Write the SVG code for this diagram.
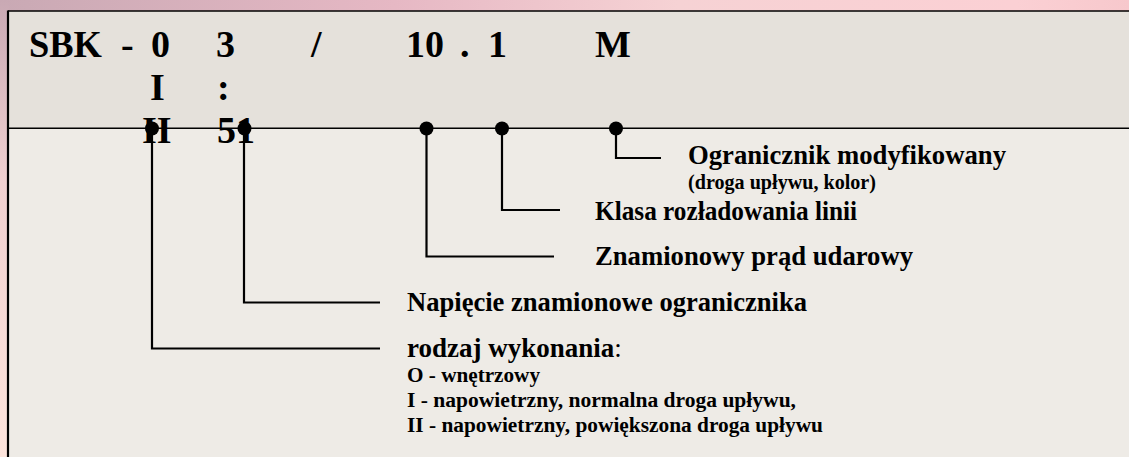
<svg xmlns="http://www.w3.org/2000/svg" width="1129" height="457" viewBox="0 0 1129 457">
<defs>
<linearGradient id="bgTop" x1="0" y1="0" x2="1" y2="0">
<stop offset="0" stop-color="#c9a9b4"/>
<stop offset="0.35" stop-color="#e6b8c4"/>
<stop offset="0.6" stop-color="#f6d2d4"/>
<stop offset="0.9" stop-color="#fbd0d4"/>
<stop offset="1" stop-color="#f7c8cc"/>
</linearGradient>
<linearGradient id="bgLeft" x1="0" y1="0" x2="0" y2="1">
<stop offset="0" stop-color="#c9a9b4"/>
<stop offset="0.4" stop-color="#f0d0d0"/>
<stop offset="1" stop-color="#fde4dc"/>
</linearGradient>
<style>
.t{font-family:"Liberation Serif","Times New Roman",serif;font-weight:bold;fill:#000}
.big{font-size:38px}
.lab{font-size:27px}
.sm{font-size:20px}
.ln{fill:none;stroke:#000;stroke-width:2.2}
.dot{fill:#000}
</style>
</defs>
<rect x="0" y="0" width="1129" height="457" fill="url(#bgTop)"/>
<rect x="0" y="0" width="9" height="457" fill="url(#bgLeft)"/>
<g id="panel">
<rect x="8" y="11" width="1121" height="117" fill="#e5e1db"/>
<rect x="8" y="128" width="1121" height="329" fill="#eeebe6"/>
<line x1="8" y1="11" x2="1129" y2="11" stroke="#000" stroke-width="1.6"/>
<line x1="8" y1="10.5" x2="8" y2="457" stroke="#000" stroke-width="2.2"/>
<line x1="8" y1="128.3" x2="1129" y2="128.3" stroke="#000" stroke-width="1.6"/>
</g>
<g id="code">
<text class="t big" x="29" y="57" textLength="73" lengthAdjust="spacingAndGlyphs">SBK</text>
<text class="t big" x="121" y="57">-</text>
<text class="t big" x="151" y="57">0</text>
<text class="t big" x="216" y="57">3</text>
<text class="t big" x="311" y="57">/</text>
<text class="t big" x="406" y="57">10</text>
<text class="t big" x="460" y="57">.</text>
<text class="t big" x="488" y="57">1</text>
<text class="t big" x="595" y="57">M</text>
<text class="t big" x="150" y="100">I</text>
<text class="t big" x="217" y="100">:</text>
<text class="t big" x="142" y="143">II</text>
<text class="t big" x="217" y="143">51</text>
</g>
<g id="connectors">
<polyline class="ln" points="152,128 152,348.5 380,348.5"/>
<polyline class="ln" points="244,128 244,302.5 380,302.5"/>
<polyline class="ln" points="426.5,128 426.5,256.5 554,256.5"/>
<polyline class="ln" points="502,128 502,210 560,210"/>
<polyline class="ln" points="616,128 616,158 661,158"/>
<circle class="dot" cx="152" cy="128.5" r="7"/>
<circle class="dot" cx="244.5" cy="128.5" r="7"/>
<circle class="dot" cx="426.5" cy="128.5" r="7"/>
<circle class="dot" cx="502" cy="128.5" r="7"/>
<circle class="dot" cx="616" cy="128.5" r="7"/>
</g>
<g id="label-modified">
<text class="t lab" x="688" y="164" textLength="318" lengthAdjust="spacingAndGlyphs">Ogranicznik modyfikowany</text>
<text class="t sm" x="688" y="189" textLength="188" lengthAdjust="spacingAndGlyphs">(droga upływu, kolor)</text>
</g>
<g id="label-class">
<text class="t lab" x="595" y="220" textLength="262" lengthAdjust="spacingAndGlyphs">Klasa rozładowania linii</text>
</g>
<g id="label-current">
<text class="t lab" x="595" y="265" textLength="318" lengthAdjust="spacingAndGlyphs">Znamionowy prąd udarowy</text>
</g>
<g id="label-voltage">
<text class="t lab" x="407" y="311" textLength="400" lengthAdjust="spacingAndGlyphs">Napięcie znamionowe ogranicznika</text>
</g>
<g id="label-type">
<text class="t lab" x="407" y="357">rodzaj wykonania<tspan font-weight="normal">:</tspan></text>
<text class="t sm" x="407" y="382" textLength="133" lengthAdjust="spacingAndGlyphs">O - wnętrzowy</text>
<text class="t sm" x="407" y="407" textLength="389" lengthAdjust="spacingAndGlyphs">I - napowietrzny, normalna droga upływu,</text>
<text class="t sm" x="407" y="432" textLength="416" lengthAdjust="spacingAndGlyphs">II - napowietrzny, powiększona droga upływu</text>
</g>
</svg>
